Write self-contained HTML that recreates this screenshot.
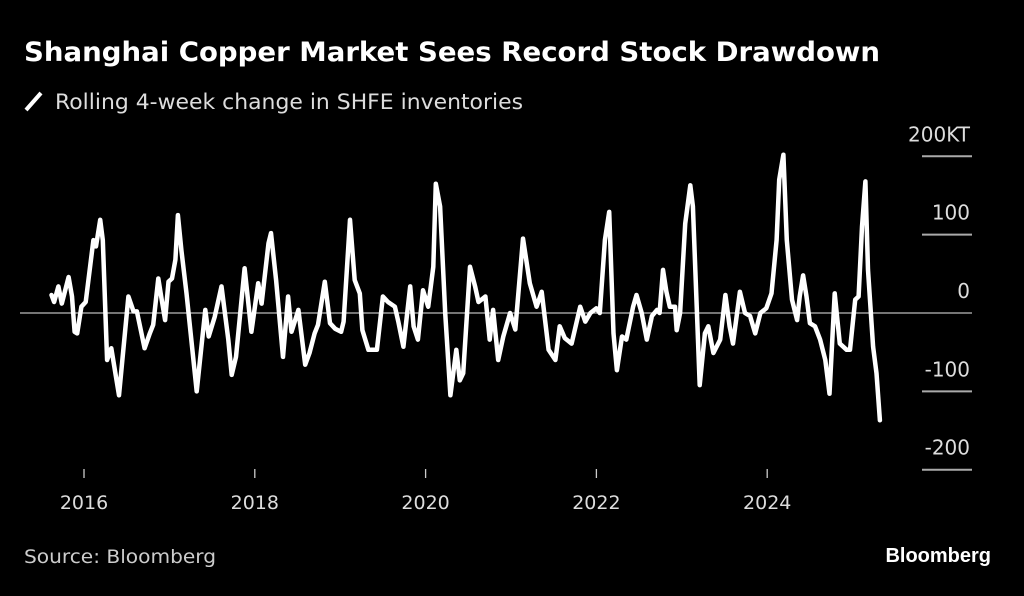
<!DOCTYPE html>
<html><head><meta charset="utf-8"><style>
html,body{margin:0;padding:0;background:#000;}
body{width:1024px;height:591px;overflow:hidden;position:relative;font-family:"Liberation Sans","DejaVu Sans",sans-serif;}
</style></head><body>
<svg id="chart" width="1024" height="591" viewBox="0 0 1024 591" xmlns="http://www.w3.org/2000/svg">
<rect width="1024" height="591" fill="#000"/>
<text x="24" y="61" fill="#fff" font-size="27" font-weight="bold" textLength="856" lengthAdjust="spacingAndGlyphs" font-family="DejaVu Sans, Liberation Sans, sans-serif">Shanghai Copper Market Sees Record Stock Drawdown</text>
<line x1="26" y1="110" x2="41" y2="93" stroke="#fff" stroke-width="4"/>
<text x="55" y="109" fill="#ddd" font-size="21" textLength="468" lengthAdjust="spacingAndGlyphs" font-family="DejaVu Sans, Liberation Sans, sans-serif">Rolling 4-week change in SHFE inventories</text>
<g id="grid"></g>
<g id="xaxis"></g>
<path id="series" fill="none" stroke="#fff" stroke-width="4.5" stroke-linejoin="round" stroke-linecap="round"/>
<text x="24" y="563" fill="#ccc" font-size="19" textLength="192" lengthAdjust="spacingAndGlyphs" font-family="DejaVu Sans, Liberation Sans, sans-serif">Source: Bloomberg</text>
<text x="991" y="562" fill="#fff" font-size="20" font-weight="bold" text-anchor="end" font-family="Liberation Sans, sans-serif">Bloomberg</text>
</svg>
<script>
const dates = [2015.62,2015.65,2015.70,2015.74,2015.77,2015.82,2015.86,2015.89,2015.92,2015.97,2016.02,2016.11,2016.14,2016.19,2016.22,2016.27,2016.32,2016.41,2016.52,2016.58,2016.62,2016.71,2016.77,2016.81,2016.87,2016.91,2016.95,2016.99,2017.03,2017.07,2017.10,2017.14,2017.20,2017.32,2017.42,2017.46,2017.53,2017.61,2017.69,2017.73,2017.78,2017.88,2017.96,2018.04,2018.08,2018.16,2018.19,2018.25,2018.33,2018.39,2018.43,2018.51,2018.59,2018.64,2018.70,2018.74,2018.82,2018.88,2018.94,2019.01,2019.04,2019.115,2019.17,2019.23,2019.26,2019.33,2019.43,2019.50,2019.56,2019.64,2019.68,2019.74,2019.82,2019.86,2019.91,2019.97,2020.03,2020.09,2020.12,2020.17,2020.23,2020.29,2020.36,2020.40,2020.44,2020.52,2020.58,2020.62,2020.70,2020.75,2020.79,2020.85,2020.91,2020.99,2021.05,2021.14,2021.22,2021.30,2021.36,2021.44,2021.52,2021.57,2021.63,2021.71,2021.81,2021.87,2021.93,2022.00,2022.04,2022.10,2022.15,2022.20,2022.24,2022.30,2022.35,2022.43,2022.47,2022.53,2022.59,2022.65,2022.71,2022.74,2022.78,2022.82,2022.86,2022.92,2022.94,2022.98,2023.04,2023.10,2023.13,2023.21,2023.27,2023.31,2023.37,2023.45,2023.51,2023.56,2023.60,2023.68,2023.74,2023.80,2023.86,2023.92,2023.99,2024.05,2024.11,2024.14,2024.19,2024.23,2024.29,2024.35,2024.38,2024.42,2024.46,2024.50,2024.56,2024.62,2024.68,2024.73,2024.79,2024.85,2024.93,2024.97,2025.03,2025.07,2025.11,2025.15,2025.18,2025.24,2025.28,2025.32];
const values = [23,14,34,12,25,46,21,-24,-26,8,14,93,85,119,93,-60,-45,-105,21,2,2,-45,-26,-15,44,17,-9,40,44,68,125,80,25,-100,4,-30,-5,34,-34,-79,-56,57,-24,38,12,89,102,42,-56,21,-24,4,-66,-51,-26,-15,40,-13,-20,-24,-11,119,42,25,-22,-47,-47,21,14,8,-11,-43,34,-17,-34,29,8,59,165,136,0,-105,-47,-86,-77,59,34,14,21,-34,4,-60,-30,0,-21,95,38,8,27,-47,-60,-17,-32,-39,8,-11,0,6,0,93,129,-26,-73,-30,-34,8,23,0,-34,-4,4,0,55,27,8,8,-22,0,114,163,136,-92,-26,-17,-51,-34,23,-17,-39,27,0,-4,-26,0,6,25,93,170,202,93,17,-9,21,48,21,-13,-17,-34,-60,-103,25,-39,-47,-47,17,21,110,168,55,-43,-77,-137];
const yTicks = [200,100,0,-100,-200];
const yTickLabels = ["200KT","100","0","-100","-200"];
const xTicks = [2016,2018,2020,2022,2024];

const NS="http://www.w3.org/2000/svg";
function xScale(d){return 84+(d-2016)*85.4;}
function yScale(v){return 313-v*0.7835;}
const grid=document.getElementById('grid');
yTicks.forEach((t,i)=>{
  const y=yScale(t);
  const ln=document.createElementNS(NS,'line');
  ln.setAttribute('x1',t===0?20:922);ln.setAttribute('x2',972);
  ln.setAttribute('y1',y);ln.setAttribute('y2',y);
  ln.setAttribute('stroke',t===0?'#bbb':'#aaa');ln.setAttribute('stroke-width',t===0?1.3:2);
  
  
  grid.appendChild(ln);
  const tx=document.createElementNS(NS,'text');
  tx.setAttribute('x',970);tx.setAttribute('y',y-15);
  tx.setAttribute('text-anchor','end');tx.setAttribute('fill','#ddd');
  tx.setAttribute('font-size','20');tx.setAttribute('font-family','DejaVu Sans, Liberation Sans, sans-serif');
  tx.textContent=yTickLabels[i];
  
  
  grid.appendChild(tx);
});
const xa=document.getElementById('xaxis');
xTicks.forEach(t=>{
  const x=xScale(t);
  const ln=document.createElementNS(NS,'line');
  ln.setAttribute('x1',x);ln.setAttribute('x2',x);ln.setAttribute('y1',469);ln.setAttribute('y2',478);
  ln.setAttribute('stroke','#ccc');ln.setAttribute('stroke-width',1.3);
  
  
  xa.appendChild(ln);
  const tx=document.createElementNS(NS,'text');
  tx.setAttribute('x',x);tx.setAttribute('y',509);tx.setAttribute('text-anchor','middle');
  tx.setAttribute('fill','#ddd');tx.setAttribute('font-size','19');tx.setAttribute('font-family','DejaVu Sans, Liberation Sans, sans-serif');
  tx.textContent=t;
  
  
  xa.appendChild(tx);
});
let d='';
dates.forEach((dt,i)=>{d+=(i?'L':'M')+xScale(dt).toFixed(1)+' '+yScale(values[i]).toFixed(1);});
document.getElementById('series').setAttribute('d',d);
</script>
</body></html>
